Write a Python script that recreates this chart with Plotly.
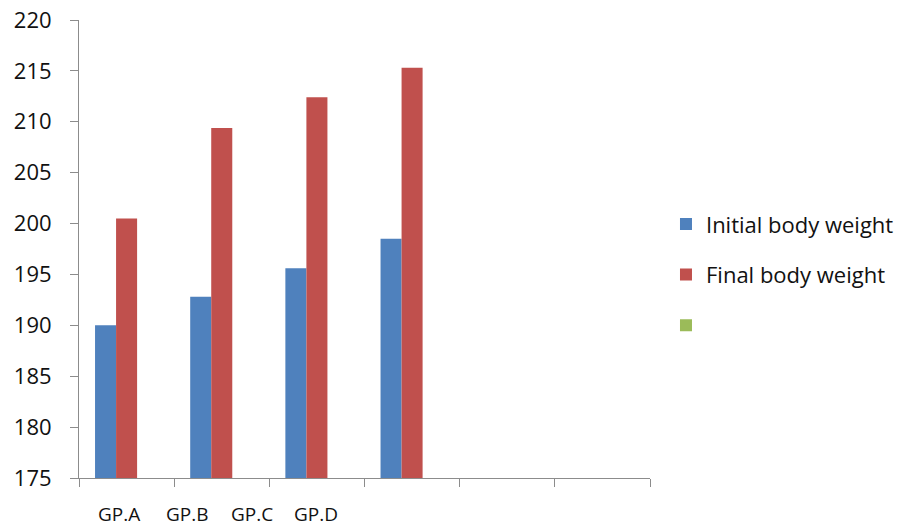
import plotly.graph_objects as go

groups = ["GP.A", "GP.B", "GP.C", "GP.D"]
group_pos = [0, 1, 2, 3]
initial_bw = [190.0, 192.8, 195.6, 198.5]
final_bw = [200.5, 209.4, 212.4, 215.3]
third_series = [None, None, None, None]
y_ticks = [175, 180, 185, 190, 195, 200, 205, 210, 215, 220]
slot_bounds = [-0.5, 0.5, 1.5, 2.5, 3.5, 4.5, 5.5]
label_x = [-0.08, 0.64, 1.32, 1.99]

FONT = "Open Sans"
AX = "#8c8c8c"

fig = go.Figure()
fig.add_trace(go.Bar(x=group_pos, y=[v - 175 for v in initial_bw], base=175,
                     name="Initial body weight", marker_color="#4F81BD",
                     legendgroup="a"))
fig.add_trace(go.Bar(x=group_pos, y=[v - 175 for v in final_bw], base=175,
                     name="Final body weight", marker_color="#C0504D",
                     legendgroup="b"))
fig.add_trace(go.Bar(x=group_pos, y=third_series, base=175,
                     name=" ", marker_color="#9BBB59", legendgroup="c",
                     showlegend=True))

for lx, lab in zip(label_x, groups):
    fig.add_annotation(x=lx, y=0, xref="x", yref="paper", yshift=-36,
                       yanchor="middle", xanchor="center",
                       text=lab, showarrow=False,
                       font=dict(family=FONT, size=19, color="#111"))

fig.update_layout(
    template="none",
    width=914, height=527,
    margin=dict(l=79, r=264, t=20, b=49, pad=0),
    paper_bgcolor="white", plot_bgcolor="white",
    barmode="group", bargap=0.337, bargroupgap=0,
    font=dict(family=FONT, size=21, color="#111"),
    legend=dict(x=1.028, xanchor="left", y=0.60, yanchor="top",
                tracegroupgap=19, itemwidth=30, bgcolor="rgba(0,0,0,0)",
                font=dict(family=FONT, size=22, color="#111")),
    xaxis=dict(range=[-0.5, 5.5], tickmode="array", tickvals=slot_bounds,
               showticklabels=False, ticks="outside", ticklen=8,
               tickcolor=AX, showline=True, linecolor=AX, linewidth=1,
               showgrid=False, zeroline=False, automargin=False),
    yaxis=dict(range=[175, 220], tickmode="array", tickvals=y_ticks,
               ticks="outside", ticklen=8, tickcolor=AX, showline=True,
               linecolor=AX, linewidth=1, showgrid=False, zeroline=False,
               ticklabelstandoff=14, automargin=False,
               ticklabeloverflow="allow",
               tickfont=dict(family=FONT, size=22, color="#111")),
)

fig.write_html("out.html", config={"displayModeBar": False},
               post_script="document.body.style.margin='0';document.body.style.overflow='hidden';")
